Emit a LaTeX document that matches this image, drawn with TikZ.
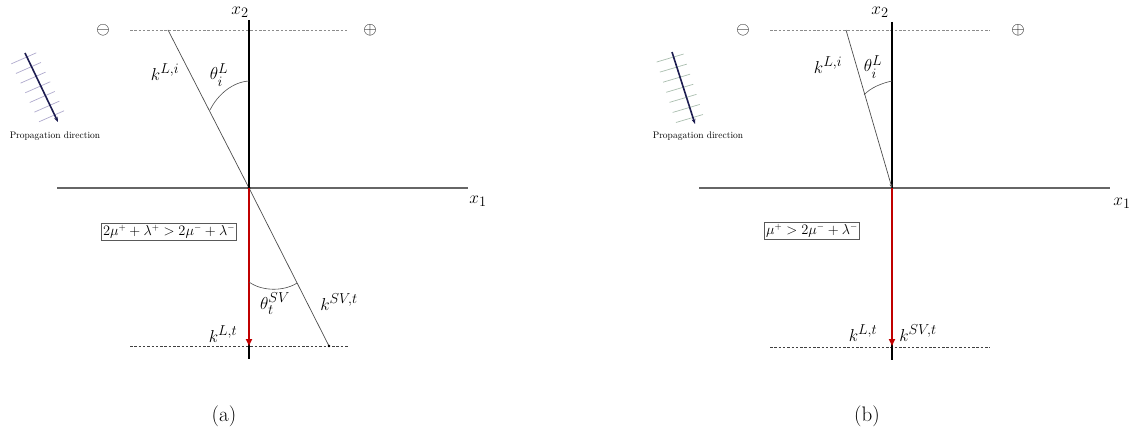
\documentclass[tikz,border=0pt]{standalone}
\usepackage{amsmath}
\usepackage{amssymb}
\usepackage{xcolor}
\usepackage{tikz}
\usetikzlibrary{arrows.meta, positioning, calc}
\definecolor{redarr}{RGB}{192,0,0}
\definecolor{navyarr}{RGB}{28,28,80}
\definecolor{ticka}{RGB}{175,170,205}
\definecolor{tickb}{RGB}{170,190,175}

\begin{document}
\begin{tikzpicture}[
  x=1pt, y=-1pt,
  axh/.style   = {draw=black!60, line width=1.1pt},
  axv/.style   = {draw=black, line width=2.6pt},
  ray/.style   = {draw=black!70, line width=0.7pt},
  topdash/.style = {draw=black!45, line width=0.8pt, dash pattern=on 2.5pt off 1.8pt},
  botdash/.style = {draw=black!75, line width=0.8pt, dash pattern=on 2.5pt off 1.8pt},
  redv/.style  = {draw=redarr, line width=2pt, -{Triangle[length=7pt,width=6pt]}},
  prop/.style  = {draw=navyarr, line width=1.6pt, -{Stealth[length=5pt]}},
  anglearc/.style = {draw=black!70, line width=0.6pt},
  lbl/.style   = {font=\fontsize{19}{22}\selectfont, inner sep=0pt},
  sgn/.style   = {font=\fontsize{19}{22}\selectfont, inner sep=0pt},
  cond/.style  = {draw=black!65, line width=0.7pt, inner sep=1.5pt,
                  font=\fontsize{13.5}{16}\selectfont},
  proptxt/.style = {font=\fontsize{9.5}{11}\selectfont, inner sep=0pt},
  sublbl/.style  = {font=\fontsize{21}{24}\selectfont, inner sep=0pt},
]
\useasboundingbox (0,0) rectangle (1142,430);

\begin{scope}[shift={(249,188)}]
  \coordinate (Oa) at (0,0);
  \coordinate (x2ta) at (0,-168);
  \coordinate (x2ba) at (0,171);
  \coordinate (x1la) at (-192,0);
  \coordinate (x1ra) at (219,0);
  \coordinate (tla) at (-119,-158);
  \coordinate (tra) at (98,-158);
  \coordinate (bla) at (-119,158);
  \coordinate (bra) at (99,158);
  \coordinate (inca) at (-81,-158);
  \coordinate (sva) at (80,158);
  \coordinate (lta) at (0,158);
  \coordinate (pa1) at (-224,-135);
  \coordinate (pa2) at (-191,-66);

  \draw[topdash] (tla) -- (tra);
  \draw[botdash] (bla) -- (bra);
  \draw[axh] (x1la) -- (x1ra);
  \draw[ray] (inca) -- (Oa) -- (sva);
  \fill (Oa) circle (1.6);
  \fill (sva) circle (1.4);
  \draw[axv] (x2ta) -- (x2ba);
  \draw[redv] (Oa) -- (lta);

  \draw[anglearc] (0,-107) .. controls (-16,-106) and (-31,-94) .. (-39,-78);
  \draw[anglearc] (0,94) .. controls (14,104) and (36,103) .. (48,95);

  \foreach \t in {0.07,0.21,0.35,0.49,0.63,0.77,0.91}
    \draw[ticka, line width=0.7pt] ($(pa1)!\t!(pa2)+(-16,6)$) -- ++(25,-11);
  \draw[prop] (pa1) -- (pa2);

  \node[proptxt] (propa) at (-194,-52) {Propagation direction};
  \node[sgn] (minusa) at (-146,-158) {$\ominus$};
  \node[sgn] (plusa) at (121,-158) {$\oplus$};
  \node[lbl] (x2a) at (-9,-176) {$x_2$};
  \node[lbl] (x1a) at (229,13) {$x_1$};
  \node[lbl] (kLia) at (-84,-116) {$k^{L,i}$};
  \node[lbl] (thia) at (-30,-113) {$\theta_i^L$};
  \node[cond] (conda) at (-80,44) {$2\mu^{+}+\lambda^{+}>2\mu^{-}+\lambda^{-}$};
  \node[lbl] (thta) at (26,116) {$\theta_t^{SV}$};
  \node[lbl] (kSVa) at (90,114) {$k^{SV,t}$};
  \node[lbl] (kLta) at (-26,146) {$k^{L,t}$};
  \node[sublbl] (capa) at (-25,228) {(a)};
\end{scope}

\begin{scope}[shift={(892,188)}]
  \coordinate (Ob) at (0,0);
  \coordinate (x2tb) at (0,-166);
  \coordinate (x2bb) at (0,172);
  \coordinate (x1lb) at (-193,0);
  \coordinate (x1rb) at (218,0);
  \coordinate (tlb) at (-122,-158);
  \coordinate (trb) at (98,-158);
  \coordinate (blb) at (-122,159);
  \coordinate (brb) at (98,159);
  \coordinate (incb) at (-46,-158);
  \coordinate (ltb) at (0,158);
  \coordinate (pb1) at (-220,-136);
  \coordinate (pb2) at (-197,-64);

  \draw[topdash] (tlb) -- (trb);
  \draw[botdash] (blb) -- (brb);
  \draw[axh] (x1lb) -- (x1rb);
  \draw[axv] (x2tb) -- (x2bb);
  \draw[ray, -{Stealth[length=4pt,width=3pt]}] (incb) -- (Ob);
  \draw[redv] (Ob) -- (ltb);

  \draw[anglearc] (0,-107) .. controls (-10,-105) and (-22,-100) .. (-28,-93);

  \foreach \t in {0.07,0.21,0.35,0.49,0.63,0.77,0.91}
    \draw[tickb, line width=0.7pt] ($(pb1)!\t!(pb2)+(-17,5)$) -- ++(27,-8);
  \draw[prop] (pb1) -- (pb2);

  \node[proptxt] (propb) at (-194,-52) {Propagation direction};
  \node[sgn] (minusb) at (-149,-158) {$\ominus$};
  \node[sgn] (plusb) at (126,-158) {$\oplus$};
  \node[lbl] (x2b) at (-12,-176) {$x_2$};
  \node[lbl] (x1b) at (230,15) {$x_1$};
  \node[lbl] (kLib) at (-64,-123) {$k^{L,i}$};
  \node[lbl] (thib) at (-19,-121) {$\theta_i^L$};
  \node[cond] (condb) at (-80,43) {$\mu^{+}>2\mu^{-}+\lambda^{-}$};
  \node[lbl] (kLtb) at (-29,145) {$k^{L,t}$};
  \node[lbl] (kSVb) at (26,145) {$k^{SV,t}$};
  \node[sublbl] (capb) at (-25,228) {(b)};
\end{scope}
\end{tikzpicture}
\end{document}
